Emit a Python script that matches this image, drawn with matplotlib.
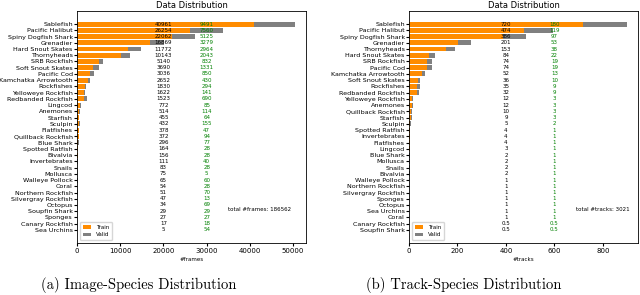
import numpy as np
import matplotlib
matplotlib.use("Agg")
import matplotlib.pyplot as plt

# image-species distribution (frames)
img_species = ["Sablefish", "Pacific Halibut", "Spiny Dogfish Shark", "Grenadier",
               "Hard Snout Skates", "Thornyheads", "SRB Rockfish", "Soft Snout Skates",
               "Pacific Cod", "Kamchatka Arrowtooth", "Rockfishes", "Yelloweye Rockfish",
               "Redbanded Rockfish", "Lingcod", "Anemones", "Starfish", "Sculpin",
               "Flatfishes", "Quillback Rockfish", "Blue Shark", "Spotted Ratfish",
               "Bivalvia", "Invertebrates", "Snails", "Mollusca", "Walleye Pollock",
               "Coral", "Northern Rockfish", "Silvergray Rockfish", "Octopus",
               "Soupfin Shark", "Sponges", "Canary Rockfish", "Sea Urchins"]
img_train = [40961, 26254, 22062, 16869, 11772, 10143, 5140, 3690, 3036, 2652, 1830,
             1622, 1523, 772, 514, 455, 432, 378, 372, 296, 164, 156, 111, 83, 75, 65,
             54, 51, 47, 34, 29, 27, 17, 5]
img_valid = [9491, 7560, 5125, 3279, 2964, 2043, 832, 1331, 850, 430, 294, 141, 690,
             85, 114, 64, 155, 47, 94, 77, 28, 28, 40, 28, 5, 60, 28, 70, 13, 69, 29,
             27, 18, 54]
img_total = "total #frames: 186562"

# track-species distribution (tracks)
trk_species = ["Sablefish", "Pacific Halibut", "Spiny Dogfish Shark", "Grenadier",
               "Thornyheads", "Hard Snout Skates", "SRB Rockfish", "Pacific Cod",
               "Kamchatka Arrowtooth", "Soft Snout Skates", "Rockfishes",
               "Redbanded Rockfish", "Yelloweye Rockfish", "Anemones",
               "Quillback Rockfish", "Starfish", "Sculpin", "Spotted Ratfish",
               "Invertebrates", "Flatfishes", "Lingcod", "Blue Shark", "Mollusca",
               "Snails", "Bivalvia", "Walleye Pollock", "Northern Rockfish",
               "Silvergray Rockfish", "Sponges", "Octopus", "Sea Urchins", "Coral",
               "Canary Rockfish", "Soupfin Shark"]
trk_train = [720, 474, 386, 201, 153, 84, 74, 74, 52, 36, 35, 32, 12, 12, 10, 9, 5, 4,
             4, 4, 3, 2, 2, 2, 2, 1, 1, 1, 1, 1, 1, 1, 0.5, 0.5]
trk_valid = [180, 119, 97, 53, 38, 22, 19, 19, 13, 10, 9, 9, 3, 3, 3, 3, 2, 1, 1, 1, 1,
             1, 1, 1, 1, 1, 1, 1, 1, 1, 1, 1, 0.5, 0.5]
trk_total = "total #tracks: 3021"


def draw(ax, names, train, valid, xlabel, total, tx, vx, totx):
    y = np.arange(len(names))
    ax.barh(y, train, color="darkorange", label="Train")
    ax.barh(y, valid, left=train, color="gray", label="Valid")
    for i in range(len(names)):
        ax.text(tx, i, f"{train[i]}", ha="center", va="center", fontsize=4, color="black")
        ax.text(vx, i, f"{valid[i]}", ha="center", va="center", fontsize=4, color="green")
    ax.text(totx, 29.7, total, ha="left", va="center", fontsize=4)
    ax.set_yticks(y)
    ax.set_yticklabels(names, fontsize=4.6)
    ax.invert_yaxis()
    ax.tick_params(axis="x", labelsize=5, length=2, pad=1.5)
    ax.tick_params(axis="y", length=2, pad=1)
    ax.set_xlabel(xlabel, fontsize=4, labelpad=2)
    ax.set_title("Data Distribution", fontsize=6, pad=2)
    ax.legend(loc="lower left", fontsize=4, handlelength=1.6, borderpad=0.5)
    for s in ax.spines.values():
        s.set_linewidth(0.6)


fig = plt.figure(figsize=(6.4, 2.95), dpi=100)
ax1 = fig.add_axes([77 / 640, 1 - 243 / 295, 229 / 640, 232 / 295])
ax2 = fig.add_axes([409 / 640, 1 - 243 / 295, 229 / 640, 232 / 295])

draw(ax1, img_species, img_train, img_valid, "#frames", img_total, 20000, 30000, 35000)
draw(ax2, trk_species, trk_train, trk_valid, "#tracks", trk_total, 400, 600, 690)

fig.text(0.216, 0.035, "(a) Image-Species Distribution", ha="center", va="center",
         fontsize=10.5, family="cmr10")
fig.text(0.725, 0.035, "(b) Track-Species Distribution", ha="center", va="center",
         fontsize=10.5, family="cmr10")

fig.savefig("out.png", dpi=100)
